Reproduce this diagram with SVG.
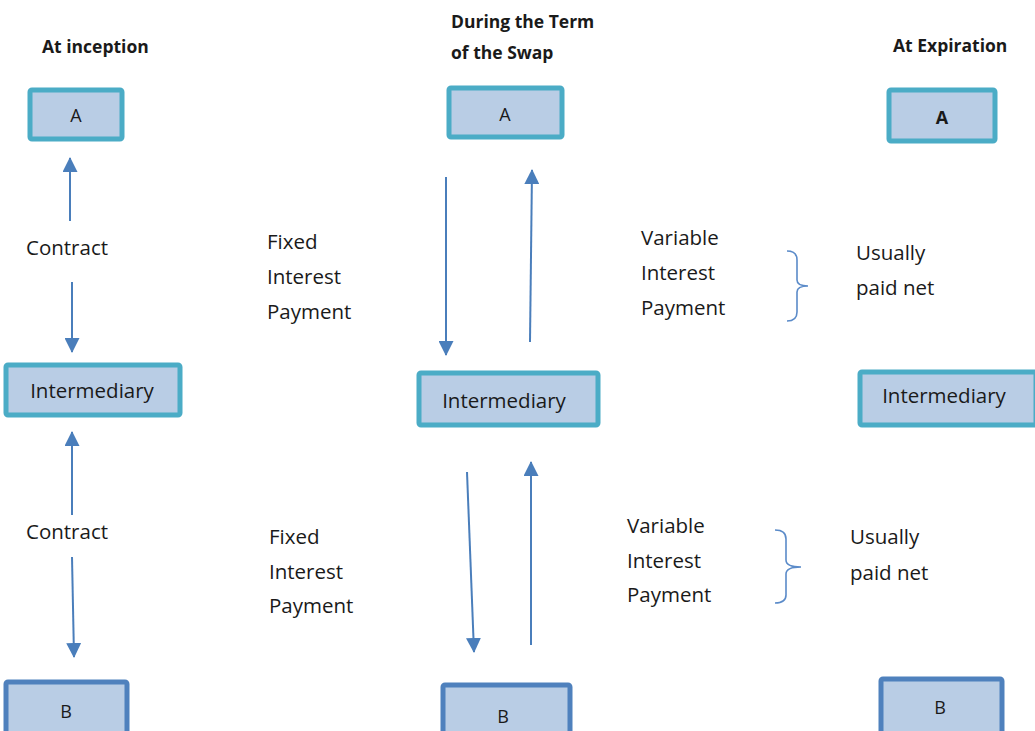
<svg xmlns="http://www.w3.org/2000/svg" width="1035" height="731" viewBox="0 0 1035 731">
<defs>
<marker id="ah" markerUnits="userSpaceOnUse" markerWidth="15" markerHeight="15" refX="14" refY="7.5" orient="auto">
<path d="M0,0 L15,7.5 L0,15 z" fill="#4A7EBB"/>
</marker>
<style>
.t{font-family:"Open Sans","Liberation Sans",sans-serif;font-size:20.5px;fill:#1a1a1a}
.h{font-family:"Open Sans","Liberation Sans",sans-serif;font-size:17.5px;font-weight:bold;fill:#1a1a1a}
.bl{font-family:"Open Sans","Liberation Sans",sans-serif;font-size:18px;fill:#1a1a1a;text-anchor:middle}
.boxA{fill:#B9CDE5;stroke:#4BACC6;stroke-width:5}
.boxB{fill:#B9CDE5;stroke:#4F81BD;stroke-width:5}
.arr{stroke:#4A7EBB;stroke-width:2;fill:none;marker-end:url(#ah)}
.br{stroke:#5B8BC9;stroke-width:1.6;fill:none}
</style>
</defs>
<rect width="1035" height="731" fill="#ffffff"/>

<g id="titles">
<text class="h" x="42" y="53">At inception</text>
<text class="h" x="451" y="28">During the Term</text>
<text class="h" x="451" y="59">of the Swap</text>
<text class="h" x="893" y="52">At Expiration</text>
</g>

<g id="node-A1"><rect class="boxA" x="30" y="90" width="92" height="49" rx="2"/><text class="bl" x="76" y="122">A</text></g>
<g id="node-A2"><rect class="boxA" x="449" y="88" width="113" height="49" rx="2"/><text class="bl" x="505" y="121">A</text></g>
<g id="node-A3"><rect class="boxA" x="889" y="90" width="106" height="51" rx="2"/><text class="bl" x="942" y="124" font-weight="bold">A</text></g>

<g id="node-I1"><rect class="boxA" x="6" y="365" width="174" height="50" rx="2"/><text class="t" x="92" y="398" text-anchor="middle">Intermediary</text></g>
<g id="node-I2"><rect class="boxA" x="419" y="373" width="179" height="52" rx="2"/><text class="t" x="504" y="408" text-anchor="middle">Intermediary</text></g>
<g id="node-I3"><rect class="boxA" x="860" y="372" width="176" height="53" rx="2"/><text class="t" x="944" y="403" text-anchor="middle">Intermediary</text></g>

<g id="node-B1"><rect class="boxB" x="6" y="682" width="121" height="60" rx="2"/><text class="bl" x="66" y="718">B</text></g>
<g id="node-B2"><rect class="boxB" x="443" y="685" width="127" height="60" rx="2"/><text class="bl" x="503" y="723">B</text></g>
<g id="node-B3"><rect class="boxB" x="881" y="679" width="121" height="60" rx="2"/><text class="bl" x="940" y="714">B</text></g>

<g id="connectors">
<line class="arr" x1="70" y1="221" x2="70" y2="158"/>
<line class="arr" x1="72" y1="282" x2="72" y2="352"/>
<line class="arr" x1="72" y1="515" x2="72" y2="432"/>
<line class="arr" x1="72" y1="557" x2="74" y2="657"/>
<line class="arr" x1="446" y1="177" x2="446" y2="355"/>
<line class="arr" x1="530" y1="342" x2="532" y2="170"/>
<line class="arr" x1="467" y1="472" x2="474" y2="652"/>
<line class="arr" x1="531" y1="645" x2="531" y2="462"/>
<path class="br" d="M787,251 Q797,251 797,260 L797,280 Q797,286 808,286 Q797,286 797,292 L797,312 Q797,321 787,321"/>
<path class="br" d="M775,530 Q786,530 786,539 L786,560 Q786,567 801,567 Q786,567 786,574 L786,595 Q786,603 775,603"/>
</g>

<g id="labels">
<text class="t" x="26" y="255">Contract</text>
<text class="t" x="26" y="539">Contract</text>
<text class="t" x="267" y="249">Fixed</text>
<text class="t" x="267" y="284">Interest</text>
<text class="t" x="267" y="319">Payment</text>
<text class="t" x="269" y="544">Fixed</text>
<text class="t" x="269" y="579">Interest</text>
<text class="t" x="269" y="613">Payment</text>
<text class="t" x="641" y="245">Variable</text>
<text class="t" x="641" y="280">Interest</text>
<text class="t" x="641" y="315">Payment</text>
<text class="t" x="627" y="533">Variable</text>
<text class="t" x="627" y="568">Interest</text>
<text class="t" x="627" y="602">Payment</text>
<text class="t" x="856" y="260">Usually</text>
<text class="t" x="856" y="295">paid net</text>
<text class="t" x="850" y="544">Usually</text>
<text class="t" x="850" y="580">paid net</text>
</g>
</svg>
